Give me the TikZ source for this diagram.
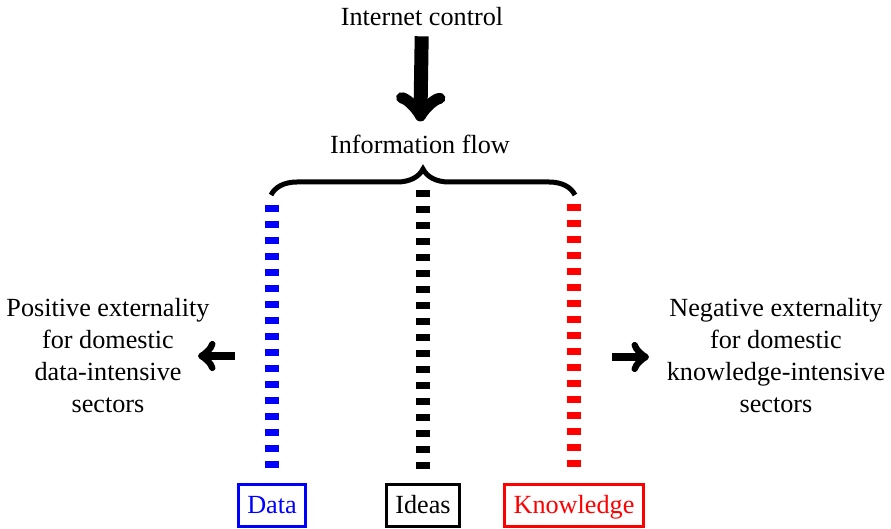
\documentclass[tikz,border=0pt]{standalone}
\usepackage{fontspec}
\setmainfont{Liberation Serif}
\usepackage{tikz}
\usetikzlibrary{arrows,positioning,calc,decorations.pathreplacing}
\tikzstyle{infobox}=[draw,line width=1.5pt,inner xsep=4.4pt,inner ysep=4.5pt,text height=10pt,text depth=2pt]
\tikzstyle{flowline}=[line width=7pt,dash pattern=on 3.5pt off 4.5pt]
\tikzstyle{bigarrow}=[-{to[scale=1.2]},line width=7pt]
\tikzstyle{sidearrow}=[->,line width=4pt]
\tikzstyle{sidetext}=[align=center]

\begin{document}
\begin{tikzpicture}[x=0.5pt,y=-0.5pt,font=\fontsize{13.1}{16}\selectfont]
\useasboundingbox (0,0) rectangle (891,529);
\node [anchor=base] (control) at (422,26) {Internet control};
\node [anchor=base] (flow) at (420,154) {Information flow};
\draw [bigarrow,shorten <=1.5pt,shorten >=3.5pt] (control) -- (flow);
% brace over the three channels
\coordinate (bleft) at (271,195);
\coordinate (bright) at (575,195);
\draw [line width=2.5pt,decorate,decoration={brace,amplitude=13pt}] (bleft) -- (bright);
% channels
\node [infobox,text=blue,draw=blue] (data) at (272,505.5) {Data};
\node [infobox] (ideas) at (423,505.5) {Ideas};
\node [infobox,text=red,draw=red] (know) at (574,505.5) {Knowledge};
\coordinate (datatop) at (272,205);
\coordinate (ideastop) at (423,190);
\coordinate (knowtop) at (574,204);
\draw [flowline,blue,shorten >=7pt] (datatop) -- (data);
\draw [flowline,shorten >=7pt] (ideastop) -- (ideas);
\draw [flowline,red,shorten >=8pt] (knowtop) -- (know);
% externalities
\node [sidetext] (positive) at (108,356) {Positive externality\\for domestic\\data-intensive\\sectors};
\node [sidetext] (negative) at (776,356) {Negative externality\\for domestic\\knowledge-intensive\\sectors};
\coordinate (lstart) at (235,356);
\coordinate (lend) at (198,356);
\coordinate (rstart) at (612,357);
\coordinate (rend) at (649,357);
\draw [sidearrow] (lstart) -- (lend);
\draw [sidearrow] (rstart) -- (rend);
\end{tikzpicture}
\end{document}
